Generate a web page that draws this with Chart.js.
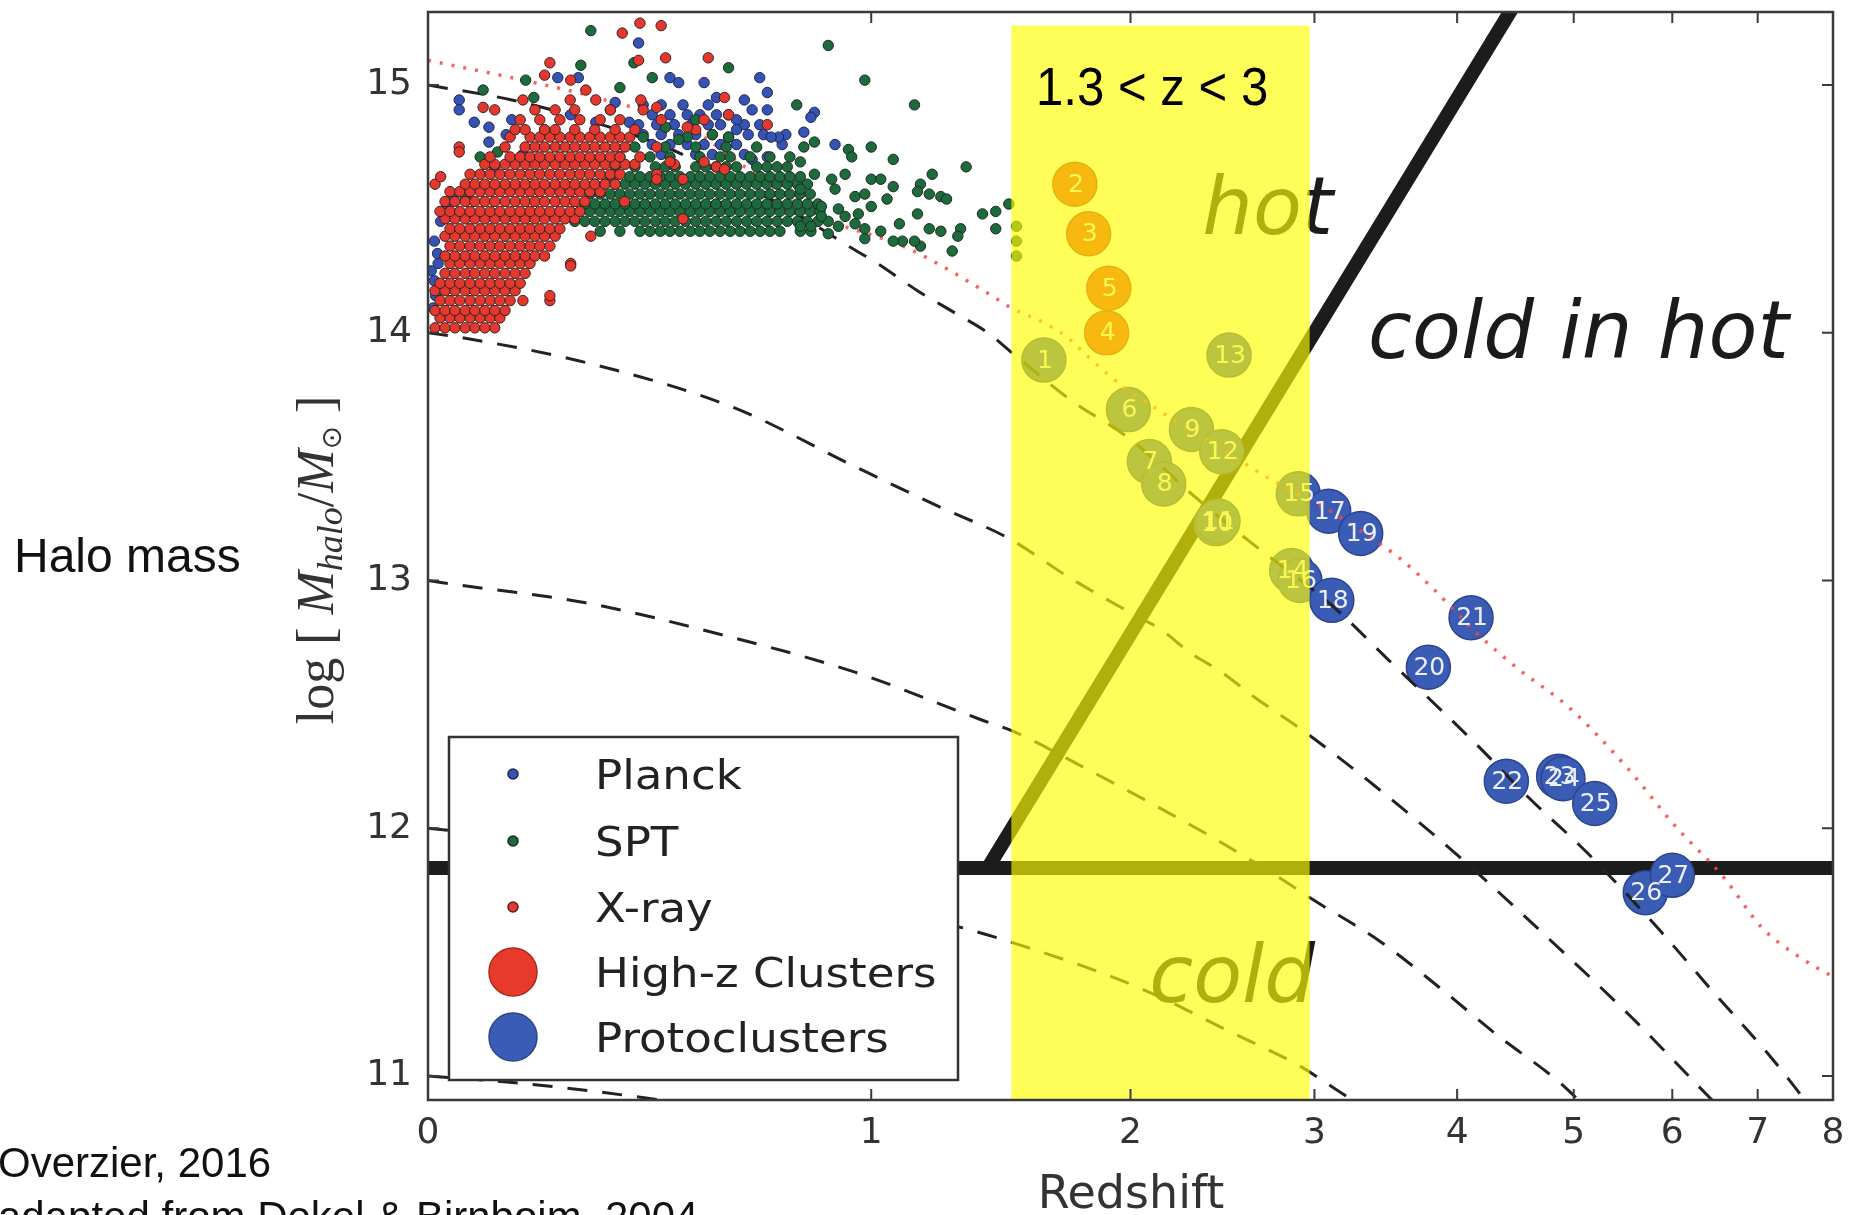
<!DOCTYPE html>
<html>
<head>
<meta charset="utf-8">
<title>Halo mass vs redshift</title>
<script src="https://cdn.jsdelivr.net/npm/chart.js@4.4.1/dist/chart.umd.min.js"></script>
<style>
  html, body { margin: 0; padding: 0; background: #fff; }
  #wrap { width: 1854px; height: 1215px; }
</style>
</head>
<body>
<div id="wrap"><canvas id="haloChart" width="1854" height="1215"></canvas></div>
<script>
// axis ticks
const xTickZ = [0, 1, 2, 3, 4, 5, 6, 7, 8];
const yTicks = [11, 12, 13, 14, 15];

// halo growth tracks, [z, log M]
const track15 = [[0,15.0],[0.14,14.94],[0.28,14.86],[0.45,14.75],[0.61,14.62],[0.78,14.48],[0.93,14.35],[1.02,14.28],[1.15,14.17],[1.28,14.08],[1.40,14.0],[1.48,13.93],[1.73,13.73],[2.0,13.57],[2.30,13.35],[2.61,13.16],[3.11,12.90],[3.49,12.68],[3.89,12.47],[4.15,12.34],[4.6,12.12],[5.13,11.90],[5.86,11.59],[6.46,11.34],[7.13,11.09],[7.62,10.90],[7.8,10.83]];
const track14 = [[0,14.0],[0.055,13.98],[0.28,13.88],[0.61,13.70],[0.95,13.46],[1.22,13.30],[1.48,13.17],[1.73,13.01],[2.0,12.87],[2.15,12.80],[2.29,12.71],[2.46,12.63],[2.64,12.53],[2.83,12.44],[3.0,12.36],[3.44,12.15],[4.05,11.87],[4.78,11.55],[5.56,11.24],[6.40,10.92],[6.6,10.85]];
const track13 = [[0,13.0],[0.055,12.98],[0.28,12.91],[0.61,12.77],[0.95,12.63],[1.37,12.44],[1.5,12.39],[1.78,12.25],[2.10,12.10],[2.44,11.95],[2.81,11.79],[2.97,11.72],[3.44,11.54],[3.88,11.35],[4.31,11.17],[4.88,10.97],[5.1,10.88]];
const track12 = [[0,12.0],[0.28,11.93],[0.61,11.82],[0.95,11.70],[1.30,11.60],[1.49,11.54],[2.03,11.36],[2.53,11.17],[2.91,11.04],[3.15,10.94],[3.3,10.88]];
const track11 = [[0,11.0],[0.16,10.97],[0.45,10.90],[0.6,10.86]];
const maxTrack = [[0,15.10],[0.16,15.02],[0.30,14.95],[0.5,14.83],[0.65,14.66],[0.83,14.48],[1.12,14.34],[1.40,14.16],[1.49,14.10],[1.62,14.04],[1.72,13.98],[1.80,13.91],[1.97,13.78],[2.15,13.68],[2.55,13.49],[2.68,13.43],[3.1,13.28],[3.3,13.20],[3.57,13.09],[3.81,12.97],[4.15,12.79],[4.51,12.64],[4.95,12.49],[5.51,12.25],[6.03,12.01],[6.59,11.80],[7.05,11.60],[7.54,11.48],[8.0,11.40]];

// cold / hot boundaries
const shockFlat = [[0, 11.84], [8, 11.84]];
const shockRise = [[1.40, 11.84], [4.45, 15.31]];

// redshift band
const bandZ = [1.49, 2.97];
const bandTop = 15.24;

// numbered clusters
const highzIds = [2, 3, 4, 5];
const highzZ = [1.75, 1.81, 1.89, 1.90];
const highzM = [14.60, 14.40, 14.00, 14.18];
const protoIds = [1, 6, 7, 8, 9, 10, 11, 12, 13, 14, 15, 16, 17, 18, 19, 20, 21, 22, 23, 24, 25, 26, 27];
const protoZ = [1.62, 1.99, 2.09, 2.16, 2.30, 2.43, 2.44, 2.46, 2.50, 2.86, 2.90, 2.91, 3.09, 3.11, 3.30, 3.78, 4.11, 4.40, 4.86, 4.90, 5.20, 5.71, 6.00];
const protoM = [13.89, 13.69, 13.48, 13.39, 13.61, 13.23, 13.24, 13.52, 13.91, 13.04, 13.35, 13.00, 13.28, 12.92, 13.19, 12.65, 12.85, 12.19, 12.21, 12.20, 12.10, 11.74, 11.81];

// low-z cluster samples: rows of [log M, [z ...]] plus loose points [z, log M]
const planckRows = [
  [14.72, [.44,.52,.56,.64]],
  [14.76, [.42,.46,.50,.54,.58,.62,.74]],
  [14.80, [.40,.44,.48,.52,.56,.65,.69,.75]],
  [14.84, [.39,.43,.47,.51,.55,.58,.64,.68]],
  [14.88, [.42,.46,.50,.53,.57,.60]],
  [14.92, [.40,.44,.49,.55]]
];
const planckExtra = [[.01,14.37],[.016,14.28],[.01,14.21],[.008,14.10],[.012,14.15],[.02,14.45],[.04,14.55],[.03,14.52],[.015,14.32],[.005,14.25],[.05,14.94],[.05,14.90],[.075,14.85],[.10,14.83],[.13,14.80],[.10,14.77],[.11,14.67],[.225,15.03],[.265,15.03],[.39,15.17],[.46,15.03],[.48,15.01],[.54,15.01],[.57,14.95],[.68,15.03],[.70,14.97],[.70,14.90],[.66,14.90],[.64,14.94],[.83,14.89],[.82,14.87],[.80,14.81],[.89,14.76],[.73,14.79],[.71,14.79],[.70,14.71],[.66,14.70],[.62,14.86],[.62,14.82],[.60,14.79],[.25,14.88],[.30,14.85],[.20,14.82],[.16,14.72],[.23,14.69],[.14,14.86],[.34,14.93],[.37,14.85]];

const sptRows = [
  [14.41, [.309,.35,.393,.415,.438,.46,.483,.507,.53,.554,.579,.604,.629,.655,.681,.707,.734,.79,.82]],
  [14.45, [.258,.278,.298,.319,.34,.361,.382,.404,.427,.449,.472,.496,.52,.544,.569,.594,.62,.646,.672,.699,.726,.754,.782,.81,.84,.87]],
  [14.49, [.268,.288,.309,.33,.35,.371,.393,.415,.438,.46,.483,.507,.53,.554,.579,.604,.629,.655,.681,.707,.734,.761,.789,.818,.846]],
  [14.52, [.278,.298,.319,.34,.361,.382,.404,.427,.449,.472,.496,.52,.544,.569,.594,.62,.646,.672,.699,.726,.754,.782,.81,.84]],
  [14.56, [.288,.309,.33,.35,.371,.393,.415,.438,.46,.483,.507,.53,.554,.579,.604,.629,.655,.681,.707,.734,.761,.789,.818]],
  [14.60, [.298,.319,.34,.361,.382,.404,.427,.449,.472,.496,.52,.544,.569,.594,.62,.646,.672,.699,.726,.754,.782,.81]],
  [14.63, [.33,.371,.393,.415,.438,.46,.483,.507,.53,.554,.579,.604,.629,.655,.681,.707,.734,.761,.79]],
  [14.67, [.34,.382,.427,.449,.472,.52,.544,.569,.594,.62,.672,.699,.726,.754]],
  [14.71, [.35,.415,.46,.53,.579,.604,.655,.707,.761]],
  [14.75, [.382,.449,.52,.594,.672,.80]],
  [14.79, [.40,.50,.60]]
];
const sptExtra = [[.29,15.22],[.27,15.08],[.38,15.09],[.165,15.02],[.09,14.98],[.42,15.03],[.35,14.99],[.18,14.95],[.115,14.73],[.085,14.71],[.06,14.55],[.87,15.16],[.60,15.07],[.98,15.02],[1.14,14.92],[.78,14.92],[.83,14.77],[.93,14.74],[1.0,14.75],[1.07,14.70],[1.32,14.67],[.92,14.64],[1.0,14.62],[1.03,14.62],[1.07,14.59],[1.2,14.64],[1.16,14.60],[1.15,14.57],[1.19,14.56],[1.23,14.55],[1.25,14.54],[.88,14.62],[.89,14.58],[.95,14.55],[.98,14.56],[1.0,14.51],[1.05,14.54],[1.15,14.48],[1.38,14.48],[1.43,14.49],[1.48,14.52],[1.43,14.42],[1.19,14.42],[1.23,14.41],[1.30,14.42],[1.29,14.39],[1.27,14.33],[1.16,14.35],[1.14,14.37],[1.10,14.37],[1.07,14.37],[1.03,14.41],[.98,14.38],[.98,14.42],[.95,14.44],[.90,14.43],[.85,14.47],[.85,14.51],[.82,14.43],[.79,14.43],[.83,14.64],[.79,14.58],[.79,14.69],[.94,14.71],[1.51,14.43],[1.51,14.37],[1.51,14.31],[.9,14.50],[.92,14.47],[.87,14.40],[1.09,14.44],[.96,14.48],[.33,14.90],[.45,14.83],[.52,14.86],[.56,14.80],[.48,14.78]];

const xrayRows = [
  [14.02, [.011,.027,.043,.06,.076,.093,.11]],
  [14.06, [.019,.035,.051,.068,.085,.102,.119]],
  [14.09, [.011,.027,.043,.06,.076,.093,.11,.128]],
  [14.13, [.019,.035,.051,.068,.085,.102,.119,.137,.16,.21]],
  [14.17, [.011,.027,.043,.06,.076,.093,.11,.128,.146]],
  [14.20, [.019,.035,.051,.068,.085,.102,.119,.137,.155]],
  [14.24, [.027,.043,.06,.076,.093,.11,.128,.146,.164]],
  [14.28, [.035,.051,.068,.085,.102,.119,.137,.155,.173,.25]],
  [14.31, [.027,.043,.06,.076,.093,.11,.128,.146,.164,.182,.20]],
  [14.35, [.035,.051,.068,.085,.102,.119,.137,.155,.173,.191,.21]],
  [14.39, [.027,.043,.06,.076,.093,.11,.128,.146,.164,.182,.20,.22,.29]],
  [14.42, [.035,.051,.068,.085,.102,.119,.137,.155,.173,.191,.21,.229]],
  [14.46, [.027,.043,.06,.076,.093,.11,.128,.146,.164,.182,.20,.22,.239,.258]],
  [14.49, [.019,.035,.051,.068,.085,.102,.119,.137,.155,.173,.191,.21,.229,.249,.268]],
  [14.53, [.027,.043,.06,.076,.093,.11,.128,.146,.164,.182,.20,.22,.239,.258,.278,.36]],
  [14.57, [.035,.051,.068,.085,.102,.119,.137,.155,.173,.191,.21,.229,.249,.268,.288,.309]],
  [14.60, [.011,.06,.076,.093,.11,.128,.146,.164,.182,.20,.22,.239,.258,.278,.298,.319,.34]],
  [14.64, [.068,.085,.102,.119,.137,.155,.173,.191,.21,.229,.249,.268,.288,.309,.33,.35,.43]],
  [14.68, [.093,.11,.128,.146,.164,.182,.20,.22,.239,.258,.278,.298,.319,.34,.361,.382,.47]],
  [14.71, [.102,.137,.155,.173,.191,.21,.229,.249,.268,.288,.309,.33,.35,.393]],
  [14.75, [.05,.128,.164,.182,.20,.22,.239,.258,.278,.298,.319,.34,.361,.43]],
  [14.79, [.137,.173,.191,.21,.229,.249,.268,.288,.309,.33,.35,.371]],
  [14.82, [.146,.164,.20,.22,.258,.298,.34,.382,.52]],
  [14.86, [.155,.191,.229,.268,.309,.35,.44]],
  [14.90, [.11,.182,.22,.258,.33,.40]],
  [14.94, [.16,.249,.30]]
];
const xrayExtra = [[.28,14.98],[.25,15.02],[.20,15.04],[.21,15.09],[.39,15.10],[.45,15.11],[.55,15.11],[.355,15.21],[.393,15.25],[.44,15.24],[.09,14.91],[.02,14.63],[.05,14.73],[.25,14.27],[.21,14.15],[.49,14.62],[.49,14.46],[.43,14.62],[.46,14.69],[.54,14.69],[.57,14.67],[.59,14.95],[.60,14.88],[.70,14.84],[.59,14.66],[.50,14.83],[.54,14.86],[.395,14.94],[.43,14.91]];

// helpers: the x axis is logarithmic in (1 + z)
const pts = list => list.map(p => ({ x: 1 + p[0], y: p[1] }));
const fromRows = (rows, extra) => {
  const out = [];
  rows.forEach(r => r[1].forEach(z => out.push({ x: 1 + z, y: r[0] })));
  return out.concat(pts(extra));
};
const numbered = (ids, zs, ms) => ids.map((id, i) => ({ x: 1 + zs[i], y: ms[i], id: id }));

const trackStyle = (data) => ({
  data: pts(data), showLine: true, pointRadius: 0, borderColor: '#222', borderWidth: 3,
  borderDash: [20, 15], cubicInterpolationMode: 'monotone', clip: 0, order: 30
});

const COLORS = {
  planck: '#3553b4', spt: '#1d6b3c', xray: '#e4382f',
  highz: '#e8392d', proto: '#3a5cb4'
};

const datasets = [
  { label: 'X-ray', data: fromRows(xrayRows, xrayExtra), pointRadius: 5.2, backgroundColor: COLORS.xray,
    borderColor: '#3a2020', borderWidth: 1, clip: 0, order: 10 },
  { label: 'SPT', data: fromRows(sptRows, sptExtra), pointRadius: 5.2, backgroundColor: COLORS.spt,
    borderColor: '#1c2a20', borderWidth: 1, clip: 0, order: 15 },
  { label: 'Planck', data: fromRows(planckRows, planckExtra), pointRadius: 5.2, backgroundColor: COLORS.planck,
    borderColor: '#20264a', borderWidth: 1, clip: 0, order: 20 },
  Object.assign(trackStyle(track15), { label: 'track15' }),
  Object.assign(trackStyle(track14), { label: 'track14' }),
  Object.assign(trackStyle(track13), { label: 'track13' }),
  Object.assign(trackStyle(track12), { label: 'track12' }),
  Object.assign(trackStyle(track11), { label: 'track11' }),
  { label: 'max', data: pts(maxTrack), showLine: true, pointRadius: 0, borderColor: 'rgba(242,72,72,0.85)',
    borderWidth: 3.5, borderDash: [3, 9], cubicInterpolationMode: 'monotone', clip: 0, order: 30 },
  { label: 'Protoclusters', data: numbered(protoIds, protoZ, protoM), pointRadius: 22,
    backgroundColor: COLORS.proto, borderColor: '#2b468f', borderWidth: 1.5, clip: 0, order: 40 },
  { label: 'High-z Clusters', data: numbered(highzIds, highzZ, highzM), pointRadius: 22,
    backgroundColor: COLORS.highz, borderColor: '#a92a22', borderWidth: 1.5, clip: 0, order: 41 },
  { label: 'shockRise', data: pts(shockRise), showLine: true, pointRadius: 0, borderColor: '#1c1c1c',
    borderWidth: 14, clip: 0, order: 50 },
  { label: 'shockFlat', data: pts(shockFlat), showLine: true, pointRadius: 0, borderColor: '#1c1c1c',
    borderWidth: 14, clip: 0, order: 50 }
];

function drawMarker(ctx, x, y, r, fill, edge) {
  ctx.beginPath();
  ctx.arc(x, y, r, 0, Math.PI * 2);
  ctx.fillStyle = fill;
  ctx.fill();
  ctx.lineWidth = 1.5;
  ctx.strokeStyle = edge;
  ctx.stroke();
}

const decor = {
  id: 'decor',
  afterDatasetsDraw(chart) {
    const { ctx, chartArea: a, scales: { x, y } } = chart;
    const px = z => x.getPixelForValue(1 + z);
    const py = m => y.getPixelForValue(m);

    ctx.save();
    ctx.beginPath();
    ctx.rect(a.left, a.top, a.right - a.left, a.bottom - a.top);
    ctx.clip();

    // numbers on the cluster discs
    ctx.fillStyle = '#eceef6';
    ctx.font = '25px "DejaVu Sans"';
    ctx.textAlign = 'center';
    ctx.textBaseline = 'middle';
    chart.data.datasets.forEach((ds, di) => {
      if (ds.label !== 'Protoclusters' && ds.label !== 'High-z Clusters') return;
      chart.getDatasetMeta(di).data.forEach((el, i) => {
        ctx.fillText(String(ds.data[i].id), el.x + 1, el.y + 1);
      });
    });

    // accretion regimes
    ctx.fillStyle = '#1b1b1b';
    ctx.font = 'oblique 80px "DejaVu Sans"';
    ctx.textAlign = 'left';
    ctx.textBaseline = 'alphabetic';
    ctx.fillText('hot', px(2.356), py(14.40));
    ctx.fillText('cold in hot', px(3.35), py(13.90));
    ctx.fillText('cold', px(2.089), py(11.30));

    // highlighted redshift band
    const bx0 = px(bandZ[0]), bx1 = px(bandZ[1]);
    ctx.fillStyle = 'rgba(255, 252, 0, 0.66)';
    ctx.fillRect(bx0, py(bandTop), bx1 - bx0, a.bottom - py(bandTop));

    ctx.save();
    ctx.translate(px(1.588), py(14.92));
    ctx.scale(0.91, 1);
    ctx.fillStyle = '#000';
    ctx.font = '54px "Liberation Sans", Arial, sans-serif';
    ctx.fillText('1.3 < z < 3', 0, 0);
    ctx.restore();
    ctx.restore();

    // frame with inward ticks
    ctx.save();
    ctx.strokeStyle = '#3a3a3a';
    ctx.lineWidth = 2.5;
    ctx.strokeRect(a.left, a.top, a.right - a.left, a.bottom - a.top);
    ctx.lineWidth = 2;
    ctx.beginPath();
    xTickZ.forEach(z => {
      const xx = px(z);
      ctx.moveTo(xx, a.bottom); ctx.lineTo(xx, a.bottom - 11);
      ctx.moveTo(xx, a.top); ctx.lineTo(xx, a.top + 11);
    });
    yTicks.forEach(m => {
      const yy = py(m);
      ctx.moveTo(a.left, yy); ctx.lineTo(a.left + 11, yy);
      ctx.moveTo(a.right, yy); ctx.lineTo(a.right - 11, yy);
    });
    ctx.stroke();
    ctx.restore();

    // legend box
    ctx.save();
    const lx = 449, ly = 737, lw = 509, lh = 343;
    ctx.fillStyle = '#fff';
    ctx.fillRect(lx, ly, lw, lh);
    ctx.strokeStyle = '#333';
    ctx.lineWidth = 2.5;
    ctx.strokeRect(lx, ly, lw, lh);
    const rows = [
      ['Planck', COLORS.planck, '#20264a', 5],
      ['SPT', COLORS.spt, '#1c2a20', 5],
      ['X-ray', COLORS.xray, '#5a2020', 5],
      ['High-z Clusters', COLORS.highz, '#a92a22', 24],
      ['Protoclusters', COLORS.proto, '#2b468f', 24]
    ];
    const rowY = [774, 841, 907, 972, 1037];
    rows.forEach((r, i) => {
      drawMarker(ctx, 513, rowY[i], r[3], r[1], r[2]);
      ctx.save();
      ctx.translate(595, rowY[i] + 15);
      ctx.scale(1.1, 1);
      ctx.fillStyle = '#222';
      ctx.font = '41px "DejaVu Sans"';
      ctx.textAlign = 'left';
      ctx.fillText(r[0], 0, 0);
      ctx.restore();
    });
    ctx.restore();
  },
  afterDraw(chart) {
    const { ctx } = chart;
    ctx.save();
    ctx.fillStyle = '#111';
    ctx.textAlign = 'left';
    ctx.textBaseline = 'alphabetic';
    ctx.font = '48px "Liberation Sans", Arial, sans-serif';
    ctx.fillText('Halo mass', 14, 572);
    ctx.font = '42px "Liberation Sans", Arial, sans-serif';
    ctx.fillText('Overzier, 2016', -2, 1177);
    ctx.fillText('adapted from Dekel & Birnboim, 2004', -2, 1231);

    ctx.fillStyle = '#333';
    ctx.textAlign = 'center';
    ctx.font = '46px "DejaVu Sans"';
    ctx.fillText('Redshift', 1131, 1208);

    // rotated y label: log [ M_halo / M_sun ]
    const parts = [
      ['log [ ', '52px "Liberation Serif"', 0],
      ['M', 'italic 52px "Liberation Serif"', 0],
      ['halo', 'italic 36px "Liberation Serif"', 9],
      ['/', '52px "Liberation Serif"', 0],
      ['M', 'italic 52px "Liberation Serif"', 0],
      ['\u2299', '28px "DejaVu Sans"', 8],
      [' ]', '52px "Liberation Serif"', 0]
    ];
    let total = 0;
    parts.forEach(p => { ctx.font = p[1]; p.push(ctx.measureText(p[0]).width); total += p[3]; });
    ctx.translate(316, 560);
    ctx.rotate(-Math.PI / 2);
    ctx.textAlign = 'left';
    let cx = -total / 2;
    parts.forEach(p => {
      ctx.font = p[1];
      ctx.fillText(p[0], cx, 17 + p[2]);
      cx += p[3];
    });
    ctx.restore();
  }
};

new Chart(document.getElementById('haloChart'), {
  type: 'scatter',
  data: { datasets: datasets },
  options: {
    responsive: false,
    animation: false,
    devicePixelRatio: 1,
    events: [],
    layout: { autoPadding: false, padding: { top: 12, right: 21, left: 0, bottom: 0 } },
    plugins: { legend: { display: false }, tooltip: { enabled: false } },
    scales: {
      x: {
        type: 'logarithmic', min: 1, max: 9,
        grid: { display: false, drawTicks: false },
        border: { display: false },
        ticks: {
          color: '#333', font: { family: 'DejaVu Sans', size: 36 }, padding: 12,
          autoSkip: false, maxRotation: 0,
          callback: v => String(Math.round(v - 1))
        },
        afterBuildTicks: s => { s.ticks = xTickZ.map(z => ({ value: 1 + z })); },
        afterFit: s => { s.height = 115; s.paddingLeft = 0; s.paddingRight = 0; }
      },
      y: {
        type: 'linear', min: 10.903, max: 15.295,
        grid: { display: false, drawTicks: false },
        border: { display: false },
        ticks: { color: '#333', font: { family: 'DejaVu Sans', size: 36 }, padding: 16 },
        afterBuildTicks: s => { s.ticks = yTicks.map(v => ({ value: v })); },
        afterFit: s => { s.width = 428; s.paddingTop = 0; s.paddingBottom = 0; }
      }
    }
  },
  plugins: [decor]
});
</script>
</body>
</html>
